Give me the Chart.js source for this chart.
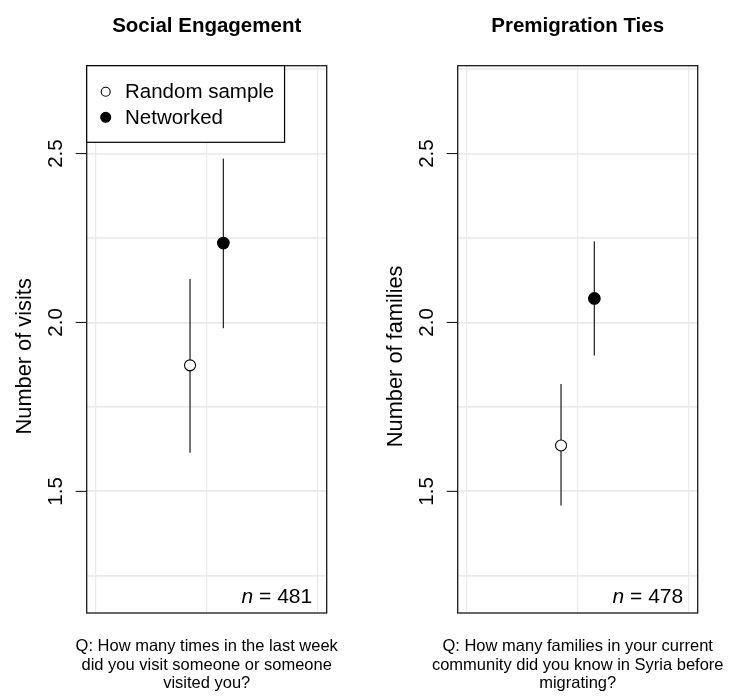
<!DOCTYPE html>
<html>
<head>
<meta charset="utf-8">
<script src="https://cdn.jsdelivr.net/npm/chart.js@4.4.1/dist/chart.umd.min.js"></script>
<style>
  html, body { margin: 0; padding: 0; background: #fff; }
  #wrap { position: relative; width: 731px; height: 696px; overflow: hidden; }
  canvas { position: absolute; top: 0; }
</style>
</head>
<body>
<div id="wrap">
  <canvas id="panelLeft" width="366" height="696" style="left:0;width:366px;height:696px"></canvas>
  <canvas id="panelRight" width="365" height="696" style="left:366px;width:365px;height:696px"></canvas>
</div>
<script>
// Groups, drawn left to right inside each panel
const groups = ['Random sample', 'Networked'];
const groupX = [0.425, 0.575];

// Social Engagement: mean number of visits and interval bounds
const visitsMean = [1.873, 2.235];
const visitsLow  = [1.614, 1.983];
const visitsHigh = [2.129, 2.485];

// Premigration Ties: mean number of families known and interval bounds
const familiesMean = [1.636, 2.071];
const familiesLow  = [1.458, 1.902];
const familiesHigh = [1.818, 2.240];

// Axis ticks
const yGridTicks  = [1.25, 1.5, 1.75, 2.0, 2.25, 2.5, 2.75];
const yLabelTicks = [1.5, 2.0, 2.5];
const xGridTicks  = [0, 0.5, 1];

const FONT = "'Liberation Sans', Arial, Helvetica, sans-serif";

// Marker styles per group: open circle, filled circle
const markerFill = ['#ffffff', '#000000'];

function drawRotated(ctx, text, x, y, font) {
  ctx.save();
  ctx.translate(x, y);
  ctx.rotate(-Math.PI / 2);
  ctx.font = font;
  ctx.textAlign = 'center';
  ctx.textBaseline = 'alphabetic';
  ctx.fillText(text, 0, 0);
  ctx.restore();
}

function drawMarker(ctx, x, y, r, i) {
  ctx.beginPath();
  ctx.arc(x, y, r, 0, Math.PI * 2);
  ctx.fillStyle = markerFill[i];
  ctx.fill();
  ctx.lineWidth = 1.1;
  ctx.strokeStyle = '#000';
  ctx.stroke();
}

const panelDecor = {
  id: 'panelDecor',
  beforeDatasetsDraw(chart, args, opts) {
    const ctx = chart.ctx;
    const xs = chart.scales.x, ys = chart.scales.y;
    ctx.save();
    ctx.strokeStyle = '#2a2a2a';
    ctx.lineWidth = 1.3;
    opts.low.forEach((lo, i) => {
      const px = xs.getPixelForValue(groupX[i]);
      ctx.beginPath();
      ctx.moveTo(px, ys.getPixelForValue(lo));
      ctx.lineTo(px, ys.getPixelForValue(opts.high[i]));
      ctx.stroke();
    });
    ctx.restore();
  },
  afterDraw(chart, args, opts) {
    const ctx = chart.ctx;
    const a = chart.chartArea;
    const ys = chart.scales.y;
    const cx = (a.left + a.right) / 2;
    ctx.save();

    // plot frame
    ctx.strokeStyle = '#1a1a1a';
    ctx.lineWidth = 1.3;
    ctx.strokeRect(a.left, a.top, a.right - a.left, a.bottom - a.top);

    // y tick marks and rotated labels
    ctx.fillStyle = '#000';
    ctx.lineWidth = 1.1;
    yLabelTicks.forEach(v => {
      const py = ys.getPixelForValue(v);
      ctx.beginPath();
      ctx.moveTo(a.left - 11, py);
      ctx.lineTo(a.left, py);
      ctx.stroke();
      drawRotated(ctx, v.toFixed(1), a.left - 25.2, py, '20.5px ' + FONT);
    });

    // y axis title
    drawRotated(ctx, opts.yTitle, a.left - 55.3, (a.top + a.bottom) / 2 + 17, '21.8px ' + FONT);

    // panel title
    ctx.font = 'bold 20.5px ' + FONT;
    ctx.textAlign = 'center';
    ctx.textBaseline = 'alphabetic';
    ctx.fillText(opts.title, cx, 31.7);

    // sample size, bottom right
    ctx.font = '21px ' + FONT;
    ctx.textAlign = 'right';
    const rest = ' = ' + opts.n;
    const xr = a.right - 14.5, yb = a.bottom - 10.5;
    ctx.fillText(rest, xr, yb);
    const w = ctx.measureText(rest).width;
    ctx.font = 'italic 21px ' + FONT;
    ctx.fillText('n', xr - w, yb);

    // legend
    if (opts.legend) {
      ctx.font = '20.5px ' + FONT;
      const tw = Math.max(...groups.map(g => ctx.measureText(g).width));
      const lw = 38.3 + tw + 10.3, lh = 76.6;
      ctx.fillStyle = '#fff';
      ctx.fillRect(a.left, a.top, lw, lh);
      ctx.strokeStyle = '#000';
      ctx.lineWidth = 1.2;
      ctx.strokeRect(a.left, a.top, lw, lh);
      groups.forEach((g, i) => {
        const ry = a.top + 26 + i * 25.6;
        drawMarker(ctx, a.left + 19, ry, i === 0 ? 4.5 : 5, i);
        ctx.fillStyle = '#000';
        ctx.textAlign = 'left';
        ctx.textBaseline = 'middle';
        ctx.fillText(g, a.left + 38.3, ry + 1);
      });
    }

    // question caption under the panel
    ctx.fillStyle = '#000';
    ctx.font = '16.5px ' + FONT;
    ctx.textAlign = 'center';
    ctx.textBaseline = 'middle';
    opts.caption.forEach((line, k) => {
      ctx.fillText(line, cx, a.bottom + 33.7 + k * 18.3);
    });
    ctx.restore();
  }
};

function makePanel(id, cfg) {
  const datasets = groups.map((g, i) => ({
    label: g,
    data: [{ x: groupX[i], y: cfg.mean[i] }],
    pointRadius: i === 0 ? 5.5 : 5.8,
    pointBackgroundColor: markerFill[i],
    pointBorderColor: '#000',
    pointBorderWidth: 1.1,
    showLine: false
  }));
  return new Chart(document.getElementById(id), {
    type: 'scatter',
    data: { datasets },
    options: {
      responsive: false,
      animation: false,
      devicePixelRatio: 1,
      layout: { padding: cfg.padding },
      events: [],
      plugins: {
        legend: { display: false },
        tooltip: { enabled: false },
        panelDecor: {
          title: cfg.title, yTitle: cfg.yTitle, n: cfg.n, caption: cfg.caption,
          low: cfg.low, high: cfg.high, legend: cfg.legend
        }
      },
      scales: {
        x: {
          type: 'linear', min: -0.04, max: 1.04,
          afterBuildTicks: s => { s.ticks = xGridTicks.map(v => ({ value: v })); },
          afterFit: s => { s.height = 0; },
          ticks: { display: false },
          grid: { color: '#ebebeb', lineWidth: 1.2, drawTicks: false },
          border: { display: false }
        },
        y: {
          type: 'linear', min: 1.14, max: 2.76,
          afterBuildTicks: s => { s.ticks = yGridTicks.map(v => ({ value: v })); },
          afterFit: s => { s.width = 0; },
          ticks: { display: false },
          grid: { color: '#ebebeb', lineWidth: 1.8, drawTicks: false },
          border: { display: false }
        }
      }
    },
    plugins: [panelDecor]
  });
}

makePanel('panelLeft', {
  title: 'Social Engagement',
  yTitle: 'Number of visits',
  n: 481,
  mean: visitsMean, low: visitsLow, high: visitsHigh,
  legend: true,
  caption: ['Q: How many times in the last week', 'did you visit someone or someone', 'visited you?'],
  padding: { left: 86.7, right: 39.3, top: 65.7, bottom: 83 }
});

makePanel('panelRight', {
  title: 'Premigration Ties',
  yTitle: 'Number of families',
  n: 478,
  mean: familiesMean, low: familiesLow, high: familiesHigh,
  legend: false,
  caption: ['Q: How many families in your current', 'community did you know in Syria before', 'migrating?'],
  padding: { left: 91.7, right: 33.3, top: 65.7, bottom: 83 }
});
</script>
</body>
</html>
